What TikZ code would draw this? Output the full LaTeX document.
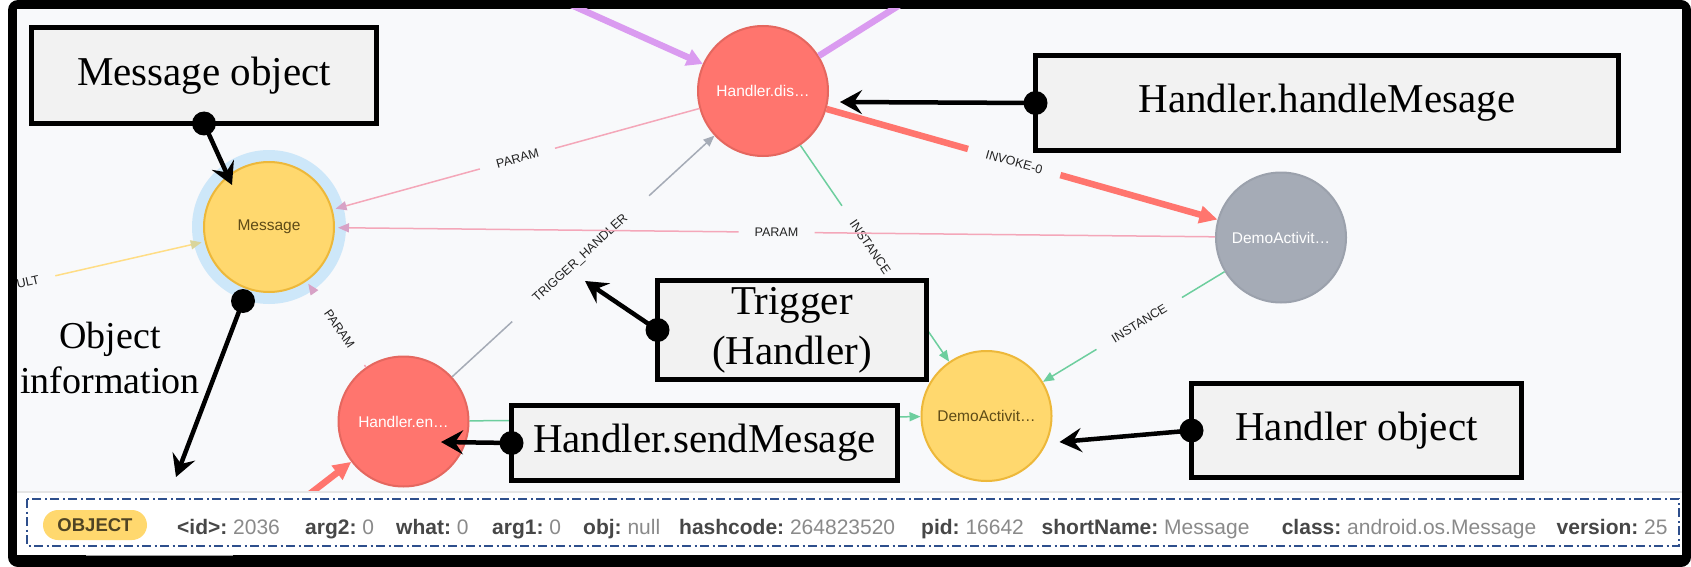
\documentclass[tikz,border=0pt]{standalone}
\usepackage{fontspec}
\setmainfont{Liberation Serif}
\newfontfamily\labelfont{Liberation Sans}
\usetikzlibrary{arrows.meta,calc}

\definecolor{bgGraph}{HTML}{F8F9FB}
\definecolor{edgePink}{HTML}{F4A7B9}
\definecolor{tipPink}{HTML}{D7A2C6}
\definecolor{edgeGreen}{HTML}{6DCE9E}
\definecolor{edgeGrey}{HTML}{A5ABB6}
\definecolor{edgePurple}{HTML}{DA9BF0}
\definecolor{edgeYellow}{HTML}{FFDD85}
\definecolor{tipYellow}{HTML}{D9D59C}
\definecolor{nodeRed}{HTML}{FF756E}
\definecolor{rimRed}{HTML}{E5675F}
\definecolor{nodeYellow}{HTML}{FFD86E}
\definecolor{rimYellow}{HTML}{EDB83A}
\definecolor{nodeGrey}{HTML}{A5ABB6}
\definecolor{rimGrey}{HTML}{9BA1AC}
\definecolor{nodeText}{HTML}{5E4B17}
\definecolor{labelText}{HTML}{222222}
\definecolor{haloBlue}{HTML}{CDE7F9}
\definecolor{boxGrey}{HTML}{F2F2F2}
\definecolor{dashBlue}{HTML}{2E4F8C}
\definecolor{keyGrey}{HTML}{474747}
\definecolor{valGrey}{HTML}{8A8A8A}
\definecolor{pillText}{HTML}{4F4424}

\newcommand{\objfield}[2]{{\color{keyGrey}\bfseries #1:}\ {\color{valGrey}#2}}

\begin{document}
\begin{tikzpicture}[x=1pt,y=-1pt,
  gnode/.style={circle,minimum size=130pt,inner sep=0pt,line width=2pt,outer sep=1pt,
    font=\labelfont\fontsize{15.5}{18}\selectfont},
  rednode/.style={gnode,fill=nodeRed,draw=rimRed,text=white},
  yelnode/.style={gnode,fill=nodeYellow,draw=rimYellow,text=nodeText},
  greynode/.style={gnode,fill=nodeGrey,draw=rimGrey,text=white},
  elabel/.style={font=\labelfont\fontsize{12.5}{14}\selectfont,text=labelText,inner sep=1pt},
  onedge/.style={elabel,sloped},
  pinkedge/.style={line width=1.5pt,edgePink,-{Triangle[length=11pt,width=9pt,color=tipPink]}},
  greenedge/.style={line width=1.5pt,edgeGreen,-{Triangle[length=11pt,width=9pt]}},
  greyedge/.style={line width=1.5pt,edgeGrey,-{Triangle[length=11pt,width=9pt]}},
  yellowedge/.style={line width=1.5pt,edgeYellow,-{Triangle[length=11pt,width=9pt,color=tipYellow]}},
  rededge/.style={line width=6.5pt,nodeRed,-{Triangle[length=18pt,width=17pt]}},
  purpleedge/.style={line width=6.5pt,edgePurple,-{Triangle[length=16pt,width=17pt]}},
  annot/.style={draw=black,line width=5pt,fill=boxGrey,align=center,inner sep=0pt,outer sep=0pt,
    font=\fontsize{41}{50}\selectfont},
  pointer/.style={line width=4.5pt,-{Stealth[length=22pt,width=24pt,inset=8pt]}},
  field/.style={anchor=base west,inner sep=0pt,font=\labelfont\fontsize{21}{24}\selectfont},
]
\useasboundingbox (0,0) rectangle (1691,567);
\fill[white] (0,0) rectangle (1691,567);
\fill[black,rounded corners=10pt] (8,0) rectangle (1691,567);
\fill[white] (17,9) rectangle (1682,555);
\fill[gray!75] (86,553) rectangle (233,556);

\begin{scope}
  \clip (17,9) rectangle (1682,492);
  \fill[bgGraph] (17,9) rectangle (1682,492);
  \fill[haloBlue] (269,227) circle (77pt);

  \node[rednode] (hdis) at (763,91) {Handler.dis…};
  \node[yelnode,outer sep=4pt] (msg) at (269,227) {Message};
  \node[greynode] (demoG) at (1281,237.5) {DemoActivit…};
  \node[yelnode] (demoY) at (986.5,416) {DemoActivit…};
  \node[rednode] (hen) at (403.5,421.5) {Handler.en…};

  \coordinate (purpIn) at (500,-27);
  \coordinate (purpOut) at (960,-33);
  \coordinate (redIn) at (250,540);

  \node[elabel,rotate=13] (resultLbl) at (28,282) {ULT};
  \draw[yellowedge] ($(resultLbl)!28pt!(msg)$) -- (msg);
  \draw[purpleedge] (purpIn) -- (hdis);
  \draw[purpleedge,-] (hdis) -- (purpOut);
  \draw[rededge] (redIn) -- (hen);

  \path (hdis) -- node[onedge,pos=.47] (instA) {INSTANCE} (demoY);
  \draw[greenedge,-] (hdis) -- ($(instA)!50pt!(hdis)$);
  \draw[greenedge] ($(instA)!50pt!(demoY)$) -- (demoY);

  \path (demoG) -- node[onedge,pos=.47] (instB) {INSTANCE} (demoY);
  \draw[greenedge,-] (demoG) -- ($(instB)!50pt!(demoG)$);
  \draw[greenedge] ($(instB)!50pt!(demoY)$) -- (demoY);

  \path (hen) -- node[onedge,pos=.49] (trigLbl) {TRIGGER\_HANDLER} (hdis);
  \draw[greyedge,-] (hen) -- ($(trigLbl)!93pt!(hen)$);
  \draw[greyedge] ($(trigLbl)!93pt!(hdis)$) -- (hdis);

  \draw[greenedge] (hen) -- (demoY);

  \path (hen) -- node[onedge,pos=.46] (paramA) {PARAM} (msg);
  \draw[pinkedge,-] (hen) -- ($(paramA)!44pt!(hen)$);
  \draw[pinkedge] ($(paramA)!44pt!(msg)$) -- (msg);

  \path (hdis) -- node[onedge,pos=.5] (paramB) {PARAM} (msg);
  \draw[pinkedge,-] (hdis) -- ($(paramB)!39pt!(hdis)$);
  \draw[pinkedge] ($(paramB)!39pt!(msg)$) -- (msg);

  \path (hdis) -- node[onedge,pos=.48] (invLbl) {INVOKE-0} (demoG);
  \draw[rededge,-] (hdis) -- ($(invLbl)!48pt!(hdis)$);
  \draw[rededge] ($(invLbl)!48pt!(demoG)$) -- (demoG);

  \path (demoG) -- node[onedge,pos=.5] (paramC) {PARAM} (msg);
  \draw[pinkedge,-] (demoG) -- ($(paramC)!38pt!(demoG)$);
  \draw[pinkedge] ($(paramC)!38pt!(msg)$) -- (msg);
\end{scope}

\fill[white] (17,492) rectangle (1682,555);
\draw[gray!20,line width=1.5pt] (17,492) -- (1682,492);
\draw[dashBlue,line width=2pt,dash pattern=on 9pt off 3.5pt on 2pt off 3.5pt]
  (27,499) rectangle (1679,546);
\node[fill=nodeYellow,rounded corners=15pt,minimum width=104pt,minimum height=30pt,inner sep=0pt,
  text=pillText,font=\labelfont\bfseries\fontsize{18.5}{20}\selectfont] (objTag) at (95,525) {OBJECT};
\node[field] (fId) at (177,534.5) {\objfield{<id>}{2036}};
\node[field] (fArg2) at (305,534.5) {\objfield{arg2}{0}};
\node[field] (fWhat) at (396,534.5) {\objfield{what}{0}};
\node[field] (fArg1) at (492,534.5) {\objfield{arg1}{0}};
\node[field] (fObj) at (583,534.5) {\objfield{obj}{null}};
\node[field] (fHash) at (679,534.5) {\objfield{hashcode}{264823520}};
\node[field] (fPid) at (921,534.5) {\objfield{pid}{16642}};
\node[field] (fShort) at (1041.5,534.5) {\objfield{shortName}{Message}};
\node[field] (fClass) at (1281.6,534.5) {\objfield{class}{android.os.Message}};
\node[field] (fVersion) at (1556.5,534.5) {\objfield{version}{25}};

\node[annot,minimum width=345pt,minimum height=96pt] (msgBox) at (204,75.5) {Message object};
\node[annot,minimum width=583pt,minimum height=95pt] (handleBox) at (1327,103) {Handler.handleMesage};
\node[annot,minimum width=269pt,minimum height=99pt] (trigBox) at (792,330) {Trigger\\(Handler)};
\node[annot,minimum width=386pt,minimum height=75pt] (sendBox) at (704.5,443) {Handler.sendMesage};
\node[annot,minimum width=330pt,minimum height=94pt] (hobjBox) at (1356.5,430.5) {Handler object};
\node[align=center,font=\fontsize{38}{45}\selectfont] (objInfo) at (110,357.5) {Object\\information};

\coordinate (msgTip) at (232,185);
\coordinate (msgDot) at (243,301);
\coordinate (infoTip) at (176,477);
\coordinate (hdisTip) at (840,102);
\coordinate (trigTip) at (585,281);
\coordinate (henTip) at (441,442);
\coordinate (demoTip) at (1059.5,442);

\draw[pointer] (msgBox.south) -- (msgTip);
\draw[pointer] (msgDot) -- (infoTip);
\draw[pointer] (handleBox.west) -- (hdisTip);
\draw[pointer] (trigBox.west) -- (trigTip);
\draw[pointer] (sendBox.west) -- (henTip);
\draw[pointer] (hobjBox.west) -- (demoTip);
\foreach \dot in {msgBox.south,msgDot,handleBox.west,trigBox.west,sendBox.west,hobjBox.west}
  \fill (\dot) circle (12pt);
\end{tikzpicture}
\end{document}
